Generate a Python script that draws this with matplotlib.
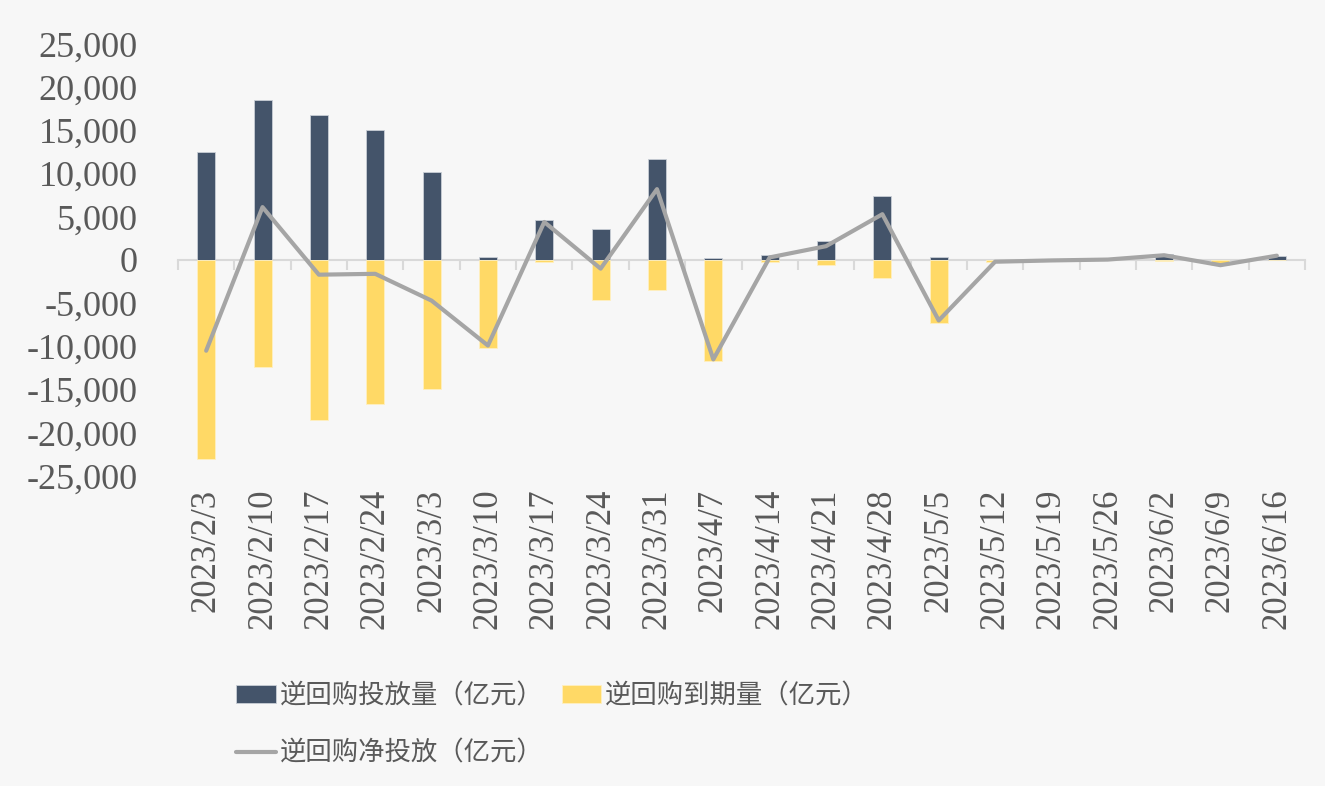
import matplotlib
matplotlib.use("Agg")
import matplotlib.pyplot as plt
import matplotlib.ticker as mticker
import numpy as np

plt.rcParams['font.family'] = ['Liberation Serif', 'Noto Sans CJK SC', 'DejaVu Sans']

# weekly reverse repo data (100 million yuan)
dates = ["2023/2/3", "2023/2/10", "2023/2/17", "2023/2/24", "2023/3/3",
         "2023/3/10", "2023/3/17", "2023/3/24", "2023/3/31", "2023/4/7",
         "2023/4/14", "2023/4/21", "2023/4/28", "2023/5/5", "2023/5/12",
         "2023/5/19", "2023/5/26", "2023/6/2", "2023/6/9", "2023/6/16"]
injection = [12500, 18500, 16800, 15100, 10200, 300, 4600, 3600, 11700, 200,
             600, 2200, 7400, 300, 0, 0, 0, 700, 0, 500]
maturity = [-23000, -12380, -18500, -16700, -14900, -10200, -230, -4630, -3500, -11700,
            -230, -580, -2080, -7300, -200, -50, 0, -150, -600, 0]
net = [-10500, 6120, -1700, -1600, -4700, -9900, 4400, -1000, 8200, -11500,
       300, 1600, 5300, -7000, -200, -50, 50, 550, -600, 500]

label_inj = "逆回购投放量（亿元）"
label_mat = "逆回购到期量（亿元）"
label_net = "逆回购净投放（亿元）"

bg = "#F7F7F7"
text_color = "#595959"

fig = plt.figure(figsize=(13.25, 7.86), dpi=100, facecolor=bg)
ax = fig.add_axes([178 / 1325, 1 - 476 / 786, (1305 - 178) / 1325, (476 - 44) / 786])
ax.set_facecolor(bg)

x = np.arange(len(dates))
b1 = ax.bar(x, injection, width=0.32, color="#44546A", edgecolor="#C9CED6", linewidth=0.6, zorder=2)
b2 = ax.bar(x, maturity, width=0.32, color="#FFD966", edgecolor="#FFF0C0", linewidth=0.6, zorder=2)
l1, = ax.plot(x, net, color="#A5A5A5", linewidth=3, zorder=3, solid_capstyle="round")

ax.set_xlim(-0.5, len(dates) - 0.5)
ax.set_ylim(-25000, 25000)
ax.set_yticks(np.arange(-25000, 25001, 5000))
ax.yaxis.set_major_formatter(mticker.FuncFormatter(lambda v, p: f"{v:,.0f}"))
ax.set_xticks(x)
ax.set_xticklabels(dates, rotation=90)

for s in ax.spines.values():
    s.set_visible(False)
ax.tick_params(axis="y", length=0, labelsize=26, labelcolor=text_color, pad=29)
ax.tick_params(axis="x", length=0, labelsize=25, labelcolor=text_color, pad=9)

# zero line with category separators
sec = ax.secondary_xaxis(0.5)
sec.xaxis.set_ticks_position("bottom")
sec.set_xticks(np.arange(len(dates) + 1) - 0.5)
sec.set_xticklabels([])
sec.tick_params(axis="x", direction="out", length=7, width=1.5, color="#D9D9D9")
for k, s in sec.spines.items():
    s.set_visible(k == "bottom")
sec.spines["bottom"].set_color("#D9D9D9")
sec.spines["bottom"].set_linewidth(1.5)
sec.set_zorder(1)

leg = fig.legend([b1, l1, b2], [label_inj, label_net, label_mat], ncol=2,
                 loc="upper left", bbox_to_anchor=(236 / 1325, 1 - 682 / 786),
                 frameon=False, prop={"family": ["Noto Sans CJK SC"], "size": 19},
                 handlelength=1.5, handleheight=0.7, handletextpad=0.15,
                 columnspacing=0.7, labelspacing=1.17, borderpad=0, borderaxespad=0)
for t in leg.get_texts():
    t.set_color(text_color)

fig.savefig("out.png", dpi=100, facecolor=bg)
